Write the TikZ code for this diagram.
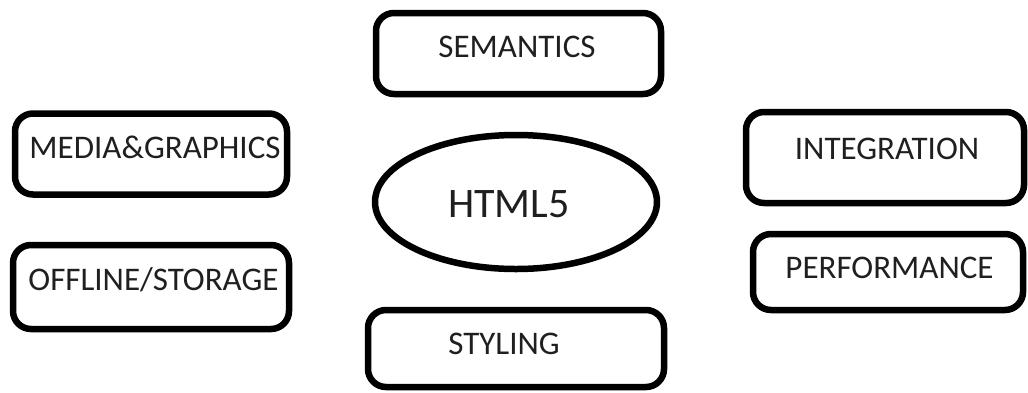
\documentclass[tikz,border=0pt]{standalone}
\usepackage{fontspec}
\setmainfont{Carlito}
\usetikzlibrary{shapes.geometric}
\begin{document}
\begin{tikzpicture}[x=1pt,y=-1pt,
  topic/.style={draw=black, line width=6.5pt, rounded corners=18pt,
    inner sep=0pt, minimum width=#1},
  topic/.default=280pt,
  tag/.style={anchor=base, inner sep=0pt, font=\fontsize{33}{40}\selectfont, text=black!88},
  hub/.style={draw=black, line width=6.5pt, ellipse, inner sep=0pt,
    minimum width=282pt, minimum height=134pt}]
  % canvas
  \useasboundingbox (0,0) rectangle (1028,392);
  \fill[white] (0,0) rectangle (1028,392);

  % central ellipse
  \node[hub] (html) at (516,202) {};
  \node[anchor=base, inner sep=0pt, font=\fontsize{42}{48}\selectfont, text=black!88]
    (htmlt) at (509,217) {HTML5};

  % topic boxes
  \node[topic=285pt, minimum height=81pt] (sem)  at (518.5,53.5) {};
  \node[topic=272pt, minimum height=81pt] (med)  at (151,154) {};
  \node[topic=276pt, minimum height=84pt] (off)  at (151,287) {};
  \node[topic=296pt, minimum height=77pt] (sty)  at (516,348.5) {};
  \node[topic=278pt, minimum height=91pt] (int)  at (885,157.5) {};
  \node[topic=270pt, minimum height=76pt] (perf) at (888,272) {};

  % labels, set near the top of each box
  \node[tag] (semt)  at (517,57)  {SEMANTICS};
  \node[tag] (medt)  at (155,158) {MEDIA\&GRAPHICS};
  \node[tag] (offt)  at (153.5,290) {OFFLINE/STORAGE};
  \node[tag] (styt)  at (504,354) {STYLING};
  \node[tag] (intt)  at (887,159) {INTEGRATION};
  \node[tag] (perft) at (889.5,278) {PERFORMANCE};
\end{tikzpicture}
\end{document}
